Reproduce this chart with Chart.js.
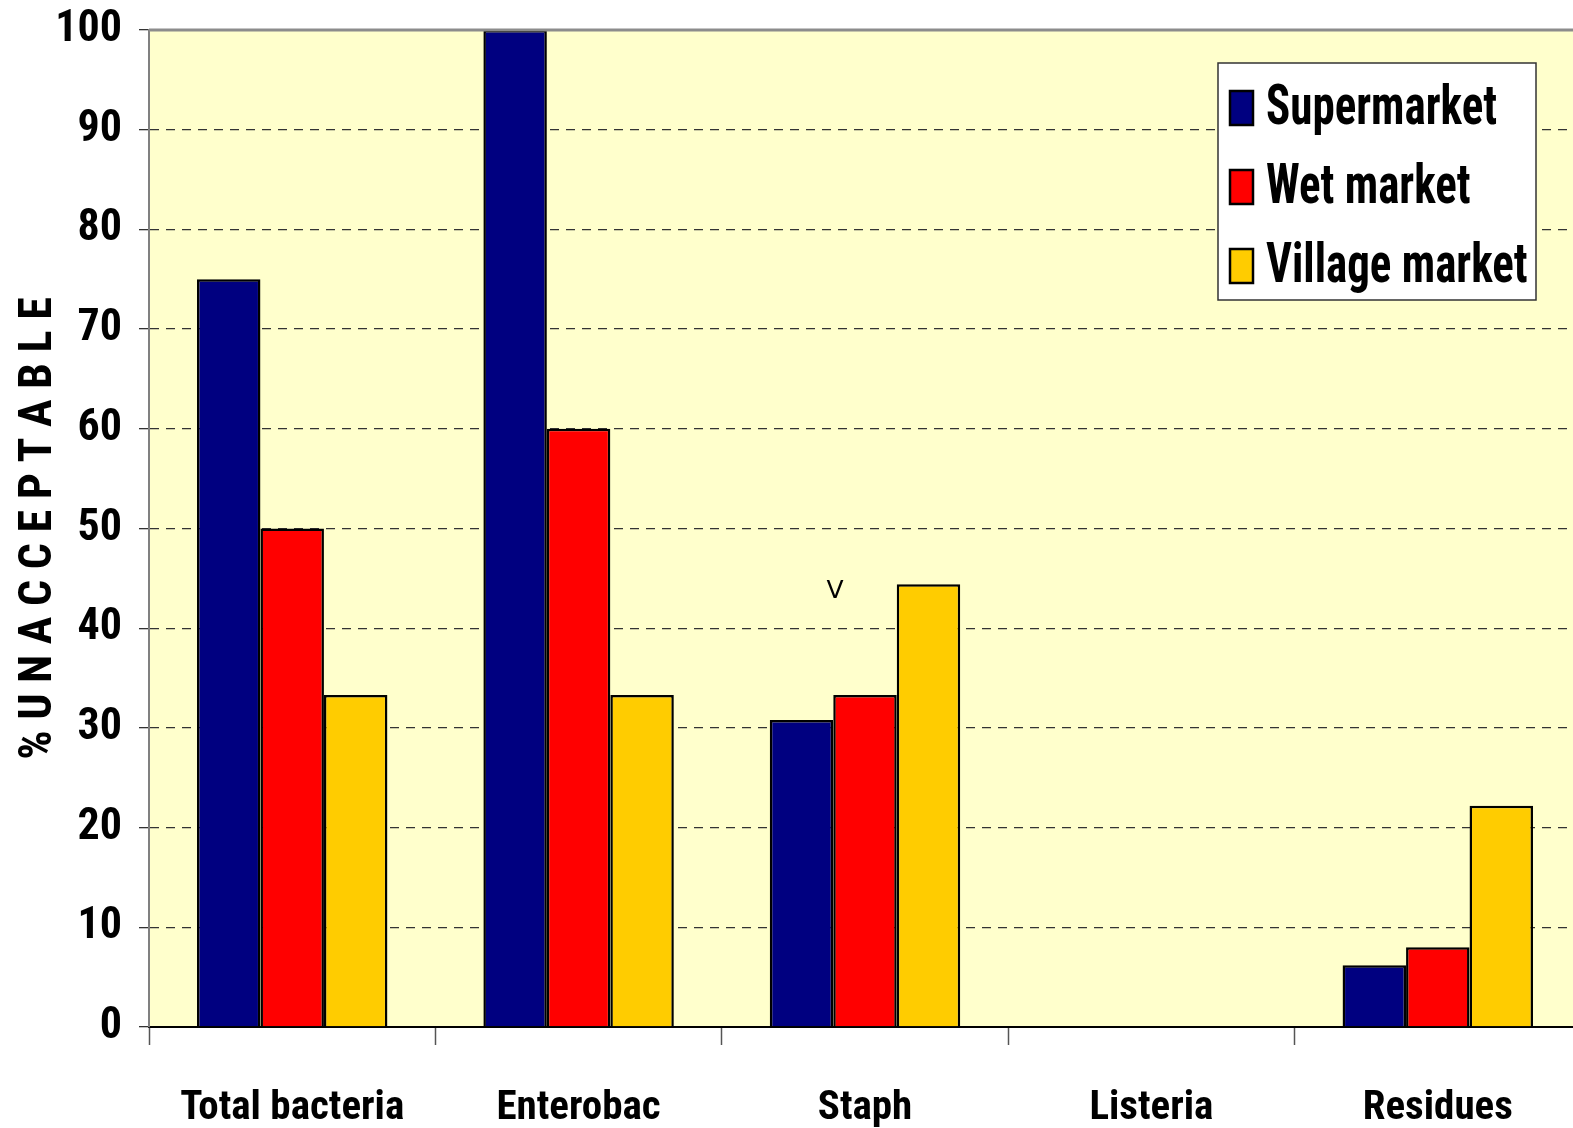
<!DOCTYPE html>
<html>
<head>
<meta charset="utf-8">
<script src="https://cdn.jsdelivr.net/npm/chart.js@4"></script>
<style>
html,body{margin:0;padding:0;background:#fff;overflow:hidden;}
#wrap{width:1581px;height:1128px;}
</style>
</head>
<body>
<div id="wrap"><canvas id="c" width="1581" height="1128"></canvas></div>
<script>
const categories = ["Total bacteria", "Enterobac", "Staph", "Listeria", "Residues"];
const supermarket = [75, 100, 30.8, 0, 6.2];
const wetMarket = [50, 60, 33.3, 0, 8.0];
const villageMarket = [33.3, 33.3, 44.4, 0, 22.2];
const seriesNames = ["Supermarket", "Wet market", "Village market"];
const seriesColors = ["#000080", "#FF0000", "#FFCC00"];
const yTicks = [0, 10, 20, 30, 40, 50, 60, 70, 80, 90, 100];
const yTitle = "% U N A C C E P T A B L E";
const noteText = "V";
const noteCategory = "Staph";
const noteValue = 43.7;

const COND = "'Roboto Condensed', 'Liberation Sans Narrow', 'Arial Narrow', sans-serif";

const bgPlugin = {
  id: 'bg',
  beforeDraw(chart) {
    const {ctx, chartArea: a} = chart;
    ctx.save();
    ctx.fillStyle = '#FFFFCC';
    ctx.fillRect(a.left, a.top, a.right - a.left, a.bottom - a.top);
    ctx.restore();
  },
  afterDatasetsDraw(chart) {
    const {ctx, chartArea: a, scales} = chart;
    ctx.save();
    // top border
    ctx.strokeStyle = '#8c8c8c';
    ctx.lineWidth = 3;
    ctx.beginPath();
    ctx.moveTo(a.left, a.top);
    ctx.lineTo(a.right, a.top);
    ctx.stroke();
    // note
    const x = scales.x.getPixelForValue(categories.indexOf(noteCategory)) - 30;
    const y = scales.y.getPixelForValue(noteValue);
    ctx.fillStyle = '#000';
    ctx.font = "25px 'DejaVu Sans', sans-serif";
    ctx.textAlign = 'center';
    ctx.textBaseline = 'middle';
    ctx.fillText(noteText, x, y);
    // legend
    const bx = 1218, by = 63, bw = 318, bh = 237;
    ctx.fillStyle = '#fff';
    ctx.fillRect(bx, by, bw, bh);
    ctx.strokeStyle = '#333';
    ctx.lineWidth = 1.5;
    ctx.strokeRect(bx, by, bw, bh);
    const rows = [108, 187, 266];
    ctx.font = "bold 55px " + COND;
    const refW = ctx.measureText(seriesNames[0]).width;
    const sx = 231 / refW;
    chart.data.datasets.forEach((ds, i) => {
      const cy = rows[i];
      ctx.fillStyle = ds.backgroundColor;
      ctx.fillRect(1230, cy - 17, 23, 34);
      ctx.strokeStyle = '#000';
      ctx.lineWidth = 2.5;
      ctx.strokeRect(1230, cy - 17, 23, 34);
      ctx.save();
      ctx.translate(1266, cy + 2);
      ctx.scale(sx, 1);
      ctx.fillStyle = '#000';
      ctx.font = "bold 55px " + COND;
      ctx.textAlign = 'left';
      ctx.textBaseline = 'middle';
      ctx.fillText(ds.label, 0, 0);
      ctx.restore();
    });
    ctx.restore();
  }
};

const mk = (i, data) => ({
  label: seriesNames[i],
  data: data,
  backgroundColor: seriesColors[i],
  borderColor: '#000',
  borderWidth: 2.5,
  borderSkipped: 'bottom',
  categoryPercentage: 0.665,
  barPercentage: 1.0
});

new Chart(document.getElementById('c'), {
  type: 'bar',
  data: {
    labels: categories,
    datasets: [mk(0, supermarket), mk(1, wetMarket), mk(2, villageMarket)]
  },
  options: {
    responsive: false,
    animation: false,
    layout: {padding: {top: 30, left: 0, right: 0, bottom: 0}},
    plugins: {legend: {display: false}, tooltip: {enabled: false}},
    scales: {
      x: {
        grid: {
          offset: true,
          drawOnChartArea: false,
          drawTicks: true,
          tickLength: 18,
          tickColor: '#555',
          tickWidth: 1.5
        },
        border: {display: true, color: '#000', width: 2},
        ticks: {
          color: '#000',
          font: {family: COND, weight: 'bold', size: 41},
          padding: 39,
          maxRotation: 0,
          autoSkip: false
        },
        afterFit(s) { s.height = 101; }
      },
      y: {
        min: 0,
        max: 100,
        afterBuildTicks(s) { s.ticks = yTicks.map(v => ({value: v})); },
        grid: {
          color: (c) => (c.tick && (c.tick.value === 100 || c.tick.value === 0)) ? 'rgba(0,0,0,0)' : '#333',
          lineWidth: 1.3,
          tickLength: 10,
          tickColor: '#333',
          tickWidth: 1.3,
          tickBorderDash: []
        },
        border: {display: true, color: '#808080', width: 2, dash: [9, 7]},
        ticks: {
          color: '#000',
          font: {family: COND, weight: 'bold', size: 44, lineHeight: 0.5},
          padding: 17
        },
        title: {
          display: true,
          text: yTitle,
          color: '#000',
          font: {family: COND, weight: 'bold', size: 46},
          padding: {top: 12, bottom: 0}
        },
        afterFit(s) { s.width = 149; }
      }
    }
  },
  plugins: [bgPlugin]
});
</script>
</body>
</html>
